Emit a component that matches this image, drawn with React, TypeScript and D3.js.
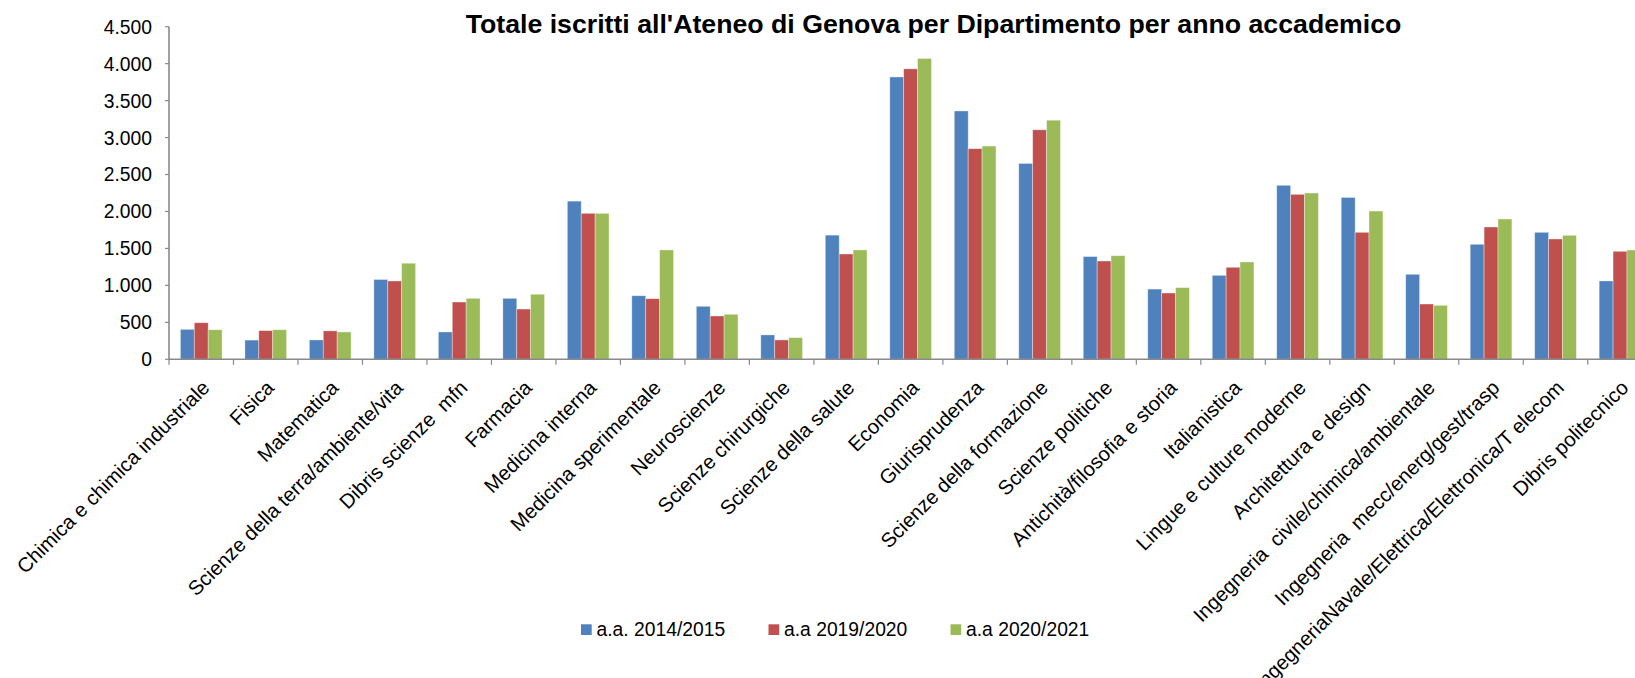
import React from "react";
import * as d3 from "d3";

const categories: string[] = [
  "Chimica e chimica industriale",
  "Fisica",
  "Matematica",
  "Scienze della terra/ambiente/vita",
  "Dibris scienze  mfn",
  "Farmacia",
  "Medicina interna",
  "Medicina sperimentale",
  "Neuroscienze",
  "Scienze chirurgiche",
  "Scienze della salute",
  "Economia",
  "Giurisprudenza",
  "Scienze della formazione",
  "Scienze politiche",
  "Antichità/filosofia e storia",
  "Italianistica",
  "Lingue e culture moderne",
  "Architettura e design",
  "Ingegneria  civile/chimica/ambientale",
  "Ingegneria  mecc/energ/gest/trasp",
  "IngegneriaNavale/Elettrica/Elettronica/T elecom",
  "Dibris politecnico",
];

const seriesNames: string[] = ["a.a. 2014/2015", "a.a 2019/2020", "a.a 2020/2021"];
const seriesColors: string[] = ["#4F81BD", "#C0504D", "#9BBB59"];

const values2014: number[] = [405, 260, 262, 1080, 370, 825, 2140, 860, 717, 330, 1680, 3820, 3360, 2650, 1390, 950, 1136, 2354, 2190, 1150, 1556, 1718, 1060];
const values2019: number[] = [495, 388, 385, 1060, 775, 680, 1975, 820, 586, 262, 1425, 3930, 2850, 3105, 1330, 897, 1245, 2232, 1718, 748, 1790, 1628, 1461];
const values2020: number[] = [400, 400, 370, 1300, 825, 880, 1975, 1480, 609, 293, 1480, 4070, 2885, 3235, 1402, 970, 1317, 2250, 2006, 730, 1898, 1677, 1479];

const yTicks: number[] = [0, 500, 1000, 1500, 2000, 2500, 3000, 3500, 4000, 4500];
const title = "Totale iscritti all'Ateneo di Genova per Dipartimento per anno accademico";

const W = 1635;
const H = 678;
const FONT = "'Liberation Sans', Arial, sans-serif";

export default function App() {
  const allSeries = [values2014, values2019, values2020];
  const left = 169;
  const step = 64.49;
  const x0 = d3.scaleBand<string>().domain(categories).range([left, left + step * categories.length]).padding(0);
  const x1 = d3.scaleBand<string>().domain(seriesNames).range([0, x0.bandwidth()]).paddingInner(0).paddingOuter(0.82);
  const y = d3.scaleLinear().domain([0, 4500]).range([359.3, 26.7]);
  const fmt = (v: number) => d3.format(",")(v).replace(/,/g, ".");
  const axisColor = "#898989";
  const y0 = y(0);

  const legendX = [581, 768.5, 950.5];

  return (
    <svg width={W} height={H} style={{ position: "absolute", left: 0, top: 0, background: "#fff" }} fontFamily={FONT}>
      <rect x={0} y={0} width={W} height={H} fill="#fff" />
      <text x={933.5} y={33.3} textAnchor="middle" fontSize={26.7} fontWeight="bold" fill="#000">{title}</text>

      {/* bars */}
      {allSeries.map((vals, si) => (
        <g key={si}>
          {vals.map((v, ci) => (
            <rect
              key={ci}
              x={(x0(categories[ci]) as number) + (x1(seriesNames[si]) as number)}
              y={y(v)}
              width={x1.bandwidth()}
              height={y0 - y(v)}
              fill={seriesColors[si]}
              stroke="#ffffff"
              strokeOpacity={0.45}
              strokeWidth={0.8}
            />
          ))}
        </g>
      ))}

      {/* y axis */}
      <line x1={left} x2={left} y1={y(4500)} y2={y0} stroke={axisColor} strokeWidth={1.6} />
      {yTicks.map((t) => (
        <g key={t}>
          <line x1={left - 4} x2={left} y1={y(t)} y2={y(t)} stroke={axisColor} strokeWidth={1.2} />
          <text x={152} y={y(t)} dy="0.36em" textAnchor="end" fontSize={19.3} fill="#000">{fmt(t)}</text>
        </g>
      ))}

      {/* x axis */}
      <line x1={left} x2={W} y1={y0} y2={y0} stroke={axisColor} strokeWidth={1.6} />
      {categories.map((c, i) => (
        <line key={"t" + i} x1={(x0(c) as number)} x2={(x0(c) as number)} y1={y0} y2={y0 + 5.5} stroke={axisColor} strokeWidth={1.2} />
      ))}
      {categories.map((c, i) => {
        const cx = (x0(c) as number) + x0.bandwidth() / 2 + 9.6;
        const cy = 389;
        return (
          <text key={"l" + i} x={cx} y={cy} textAnchor="end" fontSize={20.3} fill="#000"
            transform={`rotate(-45 ${cx} ${cy})`} style={{ whiteSpace: "pre" }}>{c}</text>
        );
      })}

      {/* legend */}
      {seriesNames.map((s, i) => (
        <g key={s}>
          <rect x={legendX[i]} y={624.3} width={10.7} height={10.7} fill={seriesColors[i]} />
          <text x={legendX[i] + 15.5} y={635.7} fontSize={19.3} fill="#000">{s}</text>
        </g>
      ))}
    </svg>
  );
}
